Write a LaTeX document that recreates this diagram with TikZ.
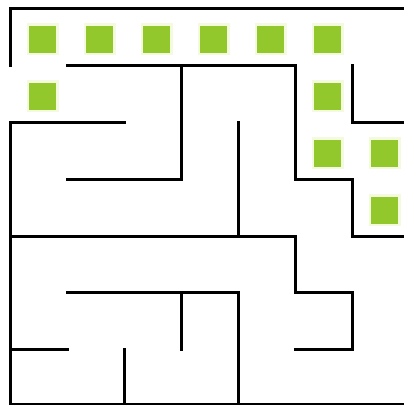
\documentclass[tikz,border=0pt]{standalone}
\begin{document}
\begin{tikzpicture}[x=1pt,y=-1pt,
  wall/.style={line width=3pt,line cap=rect,black},
  glowbox/.style={draw=none,fill={rgb,255:red,244;green,250;blue,222},minimum size=32pt,inner sep=0pt},
  gem/.style={draw=none,fill={rgb,255:red,146;green,200;blue,44},minimum size=27pt,inner sep=0pt}]
\useasboundingbox[fill=white] (0,0) rectangle (404,405);
% green squares
\foreach \c/\r [count=\i] in {0/0,1/0,2/0,3/0,4/0,5/0,0/1,5/1,5/2,6/2,6/3}{
  \node[glowbox] (g\i) at ({10+57*\c+32.5},{8+57*\r+31}) {};
  \node[gem] (s\i) at ({10+57*\c+32.5},{8+57*\r+31}) {};
}
% outer walls
\draw[wall] (10,65) -- (10,8) -- (405,8);
\draw[wall] (10,122) -- (10,404.5) -- (405,404.5);
% inner walls
\draw[wall] (67,65) -- (295,65) -- (295,179) -- (352,179) -- (352,236) -- (405,236);
\draw[wall] (352,65) -- (352,122) -- (405,122);
\draw[wall] (181,65) -- (181,179) -- (67,179);
\draw[wall] (10,122) -- (124,122);
\draw[wall] (238,122) -- (238,236);
\draw[wall] (10,236) -- (295,236) -- (295,292) -- (352,292) -- (352,349) -- (295,349);
\draw[wall] (67,292) -- (238,292) -- (238,405);
\draw[wall] (181,292) -- (181,349);
\draw[wall] (10,349) -- (67,349);
\draw[wall] (124,349) -- (124,405);
\end{tikzpicture}
\end{document}
